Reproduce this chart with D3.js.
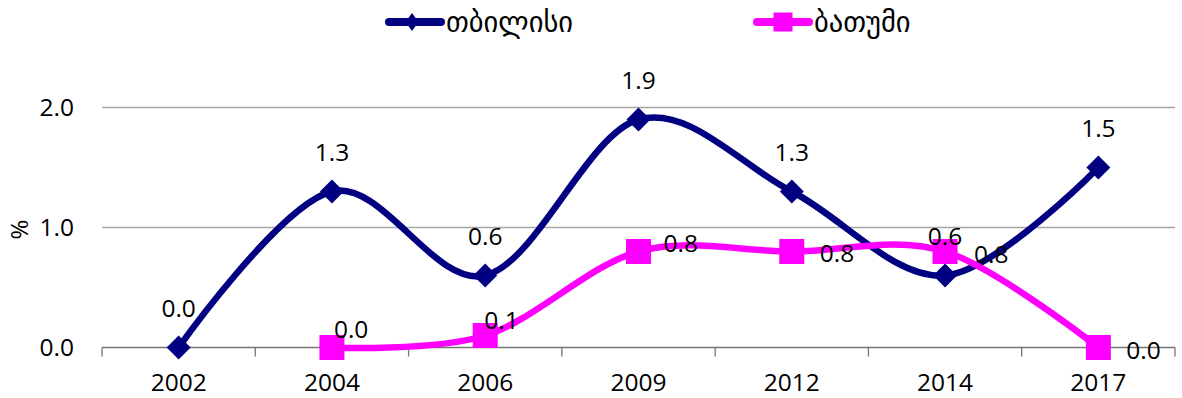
<!DOCTYPE html>
<html>
<head>
<meta charset="utf-8">
<script src="https://cdn.jsdelivr.net/npm/d3@7"></script>
<style>
  html, body { margin: 0; padding: 0; background: #fff; }
  svg { display: block; }
  text { font-family: "Open Sans", "DejaVu Sans", sans-serif; fill: #000; }
</style>
</head>
<body>
<svg id="chart" width="1182" height="398"></svg>
<script>
// Survey years and the share (%) for each city
const years = ["2002", "2004", "2006", "2009", "2012", "2014", "2017"];
const tbilisi = [0.0, 1.3, 0.6, 1.9, 1.3, 0.6, 1.5];
const batumi = [null, 0.0, 0.1, 0.8, 0.8, 0.8, 0.0];
const seriesNames = ["თბილისი", "ბათუმი"];
const yTicks = [0, 1, 2];
const yTitle = "%";

// Label nudges for the Batumi values (left edge / vertical centre offset from the point)
const batumiLabelNudge = [null, [2, -19], [-1, -16], [25, -9], [28, 1], [29, 2], [28, 2]];

const navy = "#000080";
const magenta = "#ff00ff";

const svg = d3.select("#chart");
const plotLeft = 102, plotRight = 1175, plotTop = 107.5, plotBottom = 347.5;

const x = d3.scaleBand().domain(years).range([plotLeft, plotRight]).padding(0);
const y = d3.scaleLinear().domain([0, 2]).range([plotBottom, plotTop]);
const cx = d => x(d) + x.bandwidth() / 2;
const fmt = d3.format(".1f");

// gridlines
svg.append("g").selectAll("line")
  .data(yTicks.filter(v => v > 0))
  .join("line")
  .attr("x1", plotLeft).attr("x2", plotRight)
  .attr("y1", d => y(d)).attr("y2", d => y(d))
  .attr("stroke", "#a6a6a6").attr("stroke-width", 1.3);

// x axis with tick marks at category boundaries
const xAxis = d3.axisBottom(x).tickSize(0).tickPadding(26);
const gx = svg.append("g").attr("transform", `translate(0,${plotBottom})`).call(xAxis);
gx.select(".domain").remove();
gx.selectAll("text").style("font-size", "24.5px").attr("font-family", null);
svg.append("line")
  .attr("x1", plotLeft).attr("x2", plotRight).attr("y1", plotBottom).attr("y2", plotBottom)
  .attr("stroke", "#767676").attr("stroke-width", 1.3);
const bounds = years.map(d => x(d)).concat([plotRight]);
svg.append("g").selectAll("line").data(bounds).join("line")
  .attr("x1", d => d).attr("x2", d => d)
  .attr("y1", plotBottom).attr("y2", plotBottom + 9)
  .attr("stroke", "#767676").attr("stroke-width", 1.3);

// y axis labels
const yAxis = d3.axisLeft(y).tickValues(yTicks).tickFormat(fmt).tickSize(0).tickPadding(28);
const gy = svg.append("g").attr("transform", `translate(${plotLeft},0)`).call(yAxis);
gy.select(".domain").remove();
gy.selectAll("text").style("font-size", "24.5px").attr("font-family", null);

svg.append("text")
  .attr("transform", `translate(28,${(plotTop + plotBottom) / 2 + 2}) rotate(-90)`)
  .attr("text-anchor", "middle")
  .style("font-size", "24px")
  .text(yTitle);

// smoothed lines
const line = d3.line()
  .defined(d => d[1] != null)
  .x(d => cx(d[0])).y(d => y(d[1]))
  .curve(d3.curveCardinal.tension(0));

const tbPts = years.map((yr, i) => [yr, tbilisi[i]]);
const baPts = years.map((yr, i) => [yr, batumi[i]]);

svg.append("path").datum(tbPts).attr("d", line)
  .attr("fill", "none").attr("stroke", navy).attr("stroke-width", 6.5)
  .attr("stroke-linejoin", "round");
svg.append("path").datum(baPts).attr("d", line)
  .attr("fill", "none").attr("stroke", magenta).attr("stroke-width", 6.5)
  .attr("stroke-linejoin", "round");

const diamondPath = "M0,-12L12,0L0,12L-12,0Z";

// markers
svg.append("g").selectAll("path").data(tbPts).join("path")
  .attr("d", diamondPath)
  .attr("transform", d => `translate(${cx(d[0])},${y(d[1])})`)
  .attr("fill", navy);
svg.append("g").selectAll("rect").data(baPts.filter(d => d[1] != null)).join("rect")
  .attr("x", d => cx(d[0]) - 12.5).attr("y", d => y(d[1]) - 12.5)
  .attr("width", 25).attr("height", 25)
  .attr("fill", magenta);

// value labels
svg.append("g").selectAll("text").data(tbPts).join("text")
  .attr("x", d => cx(d[0])).attr("y", d => y(d[1]) - 40)
  .attr("text-anchor", "middle").attr("dominant-baseline", "central")
  .style("font-size", "24.5px")
  .text(d => fmt(d[1]));
svg.append("g").selectAll("text")
  .data(baPts.map((d, i) => [d[0], d[1], batumiLabelNudge[i]]).filter(d => d[1] != null))
  .join("text")
  .attr("x", d => cx(d[0]) + d[2][0]).attr("y", d => y(d[1]) + d[2][1])
  .attr("dominant-baseline", "central")
  .style("font-size", "24.5px")
  .text(d => fmt(d[1]));

// legend
const legend = [
  { name: seriesNames[0], color: navy, x: 389, shape: "diamond" },
  { name: seriesNames[1], color: magenta, x: 757, shape: "square" }
];
const lg = svg.append("g").selectAll("g").data(legend).join("g")
  .attr("transform", d => `translate(${d.x},22)`);
lg.append("line").attr("x1", 0).attr("x2", 52).attr("y1", 0).attr("y2", 0)
  .attr("stroke", d => d.color).attr("stroke-width", 8).attr("stroke-linecap", "round");
lg.filter(d => d.shape === "diamond").append("path")
  .attr("d", "M0,-9L6.5,0L0,9L-6.5,0Z").attr("transform", "translate(23,0)")
  .attr("fill", d => d.color);
lg.filter(d => d.shape === "square").append("rect")
  .attr("x", 16.5).attr("y", -9.5).attr("width", 19).attr("height", 19)
  .attr("fill", d => d.color);
lg.append("text").attr("x", 57).attr("y", 0)
  .attr("dominant-baseline", "central")
  .style("font-size", "28.5px")
  .style("font-family", "'DejaVu Sans', sans-serif")
  .text(d => d.name);
</script>
</body>
</html>
